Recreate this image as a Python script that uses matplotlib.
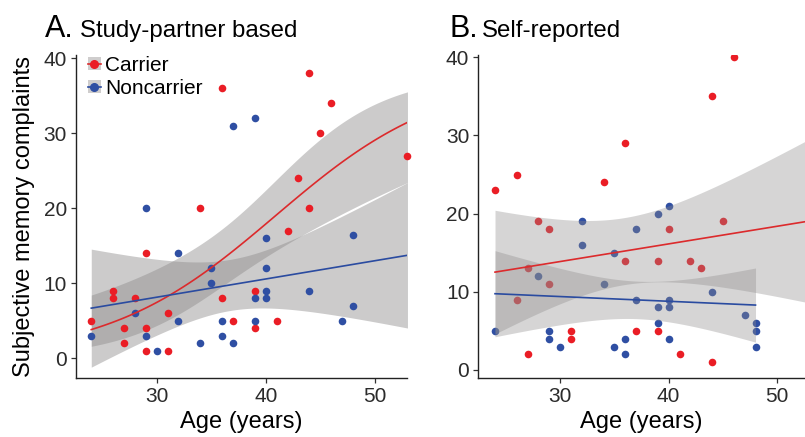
import numpy as np
import matplotlib
matplotlib.use("Agg")
import matplotlib.pyplot as plt
from matplotlib.patches import Rectangle
from matplotlib.lines import Line2D

plt.rcParams['font.family'] = ['Liberation Sans', 'DejaVu Sans']

# Panel A: study-partner based
a_car_age = [24, 26, 26, 27, 27, 28, 29, 29, 29, 31, 31, 34, 36, 36, 37, 39, 39, 41, 42, 43, 44, 44, 45, 46, 53]
a_car_val = [5, 9, 8, 4, 2, 8, 14, 4, 1, 6, 1, 20, 36, 8, 5, 9, 4, 5, 17, 24, 38, 20, 30, 34, 27]
a_non_age = [24, 28, 29, 29, 30, 32, 32, 34, 35, 35, 36, 36, 37, 37, 39, 39, 39, 40, 40, 40, 40, 44, 47, 48, 48]
a_non_val = [3, 6, 20, 3, 1, 14, 5, 2, 12, 10, 5, 3, 31, 2, 32, 8, 5, 16, 12, 9, 8, 9, 5, 16.4, 7]

# Panel B: self-reported (last carrier point sits past the cropped right edge)
b_car_age = [24, 26, 26, 27, 27, 28, 29, 29, 31, 31, 34, 36, 36, 37, 39, 39, 40, 41, 42, 43, 44, 44, 45, 46, 53]
b_car_val = [23, 25, 9, 13, 2, 19, 18, 11, 5, 4, 24, 29, 14, 5, 14, 5, 18, 2, 14, 13, 35, 1, 19, 40, 18]
b_non_age = [24, 28, 29, 29, 30, 32, 32, 34, 35, 35, 36, 36, 37, 37, 39, 39, 39, 40, 40, 40, 40, 44, 47, 48, 48, 48]
b_non_val = [5, 12, 5, 4, 3, 19, 16, 11, 15, 3, 4, 2, 18, 9, 20, 8, 6, 21, 9, 8, 4, 10, 7, 6, 5, 3]

RED = '#EA1D25'
BLUE = '#2F4FA3'
RED_LINE = '#DC2A2C'
BLUE_LINE = '#2A4BA0'
BAND = '#8e8c8c'


def t975(df):
    z = 1.959964
    return z + (z**3 + z) / (4 * df) + (5 * z**5 + 16 * z**3 + 3 * z) / (96 * df**2)


def lm_band(x, y, grid):
    x = np.asarray(x, float); y = np.asarray(y, float)
    n = len(x)
    X = np.column_stack([np.ones(n), x])
    beta = np.linalg.lstsq(X, y, rcond=None)[0]
    r = y - X @ beta
    cov = (r @ r / (n - 2)) * np.linalg.inv(X.T @ X)
    G = np.column_stack([np.ones_like(grid), grid])
    fit = G @ beta
    se = np.sqrt(np.einsum('ij,jk,ik->i', G, cov, G))
    t = t975(n - 2)
    return fit, fit - t * se, fit + t * se


def logit_band(x, y, grid, top):
    # quasi-binomial GLM on y/top, fitted by IRLS
    x = np.asarray(x, float); p = np.asarray(y, float) / top
    n = len(x)
    X = np.column_stack([np.ones(n), x])
    beta = np.zeros(2)
    for _ in range(100):
        eta = X @ beta
        mu = 1 / (1 + np.exp(-eta))
        w = mu * (1 - mu)
        z = eta + (p - mu) / w
        beta = np.linalg.solve(X.T @ (w[:, None] * X), X.T @ (w * z))
    mu = 1 / (1 + np.exp(-(X @ beta)))
    w = mu * (1 - mu)
    disp = np.sum((p - mu) ** 2 / w) / (n - 2)
    cov = disp * np.linalg.inv(X.T @ (w[:, None] * X))
    G = np.column_stack([np.ones_like(grid), grid])
    eta = G @ beta
    se = np.sqrt(np.einsum('ij,jk,ik->i', G, cov, G))
    inv = lambda e: top / (1 + np.exp(-e))
    return inv(eta), inv(eta - 1.96 * se), inv(eta + 1.96 * se)


def style(ax):
    for s in ['top', 'right']:
        ax.spines[s].set_visible(False)
    for s in ['left', 'bottom']:
        ax.spines[s].set_linewidth(1.0)
        ax.spines[s].set_color('#222222')
    ax.set_xticks([30, 40, 50])
    ax.set_yticks([0, 10, 20, 30, 40])
    ax.tick_params(length=3.5, width=0.9, color='#333333', labelsize=15,
                   labelcolor='#2b2b2b', pad=3)
    ax.set_xlabel('Age (years)', fontsize=17, labelpad=4)


W, H = 805, 437
fig = plt.figure(figsize=(W / 100, H / 100), dpi=100)
axA = fig.add_axes([76 / W, (H - 377.7) / H, (406.7 - 76) / W, (377.7 - 55) / H])
axB = fig.add_axes([478.3 / W, (H - 377.7) / H, (805 - 478.3) / W, (377.7 - 55) / H])

# ---- panel A
grid = np.linspace(min(a_car_age + a_non_age), max(a_car_age + a_non_age), 120)
fr, lr, hr = logit_band(a_car_age, a_car_val, grid, top=max(a_car_val))
fb, lb, hb = lm_band(a_non_age, a_non_val, grid)
axA.fill_between(grid, lr, hr, color=BAND, alpha=0.45, lw=0, zorder=1)
axA.fill_between(grid, lb, hb, color=BAND, alpha=0.45, lw=0, zorder=1)
axA.scatter(a_car_age, a_car_val, s=30, color=RED, lw=0, zorder=3, clip_on=False)
axA.scatter(a_non_age, a_non_val, s=30, color=BLUE, lw=0, zorder=3, clip_on=False)
axA.plot(grid, fr, color=RED_LINE, lw=1.2, zorder=4)
axA.plot(grid, fb, color=BLUE_LINE, lw=1.2, zorder=4)
axA.set_xlim(22.6, 52.93)
axA.set_ylim(-2.59, 40.44)
style(axA)
axA.set_ylabel('Subjective memory complaints', fontsize=17, labelpad=6)

hc = (Rectangle((0, 0), 1, 1, color='#cfcdcd', lw=0),
      Line2D([], [], color=RED_LINE, lw=1.2, marker='o', ms=5.5, mfc=RED, mec=RED))
hn = (Rectangle((0, 0), 1, 1, color='#cfcdcd', lw=0),
      Line2D([], [], color=BLUE_LINE, lw=1.2, marker='o', ms=5.5, mfc=BLUE, mec=BLUE))
axA.legend([hc, hn], ['Carrier', 'Noncarrier'], loc='upper left',
           bbox_to_anchor=(0.035, 0.997), frameon=False, fontsize=15,
           handlelength=0.65, handleheight=0.55, handletextpad=0.2,
           labelspacing=0.2, borderpad=0, borderaxespad=0)

# ---- panel B
gc = np.linspace(min(b_car_age), max(b_car_age), 120)
gn = np.linspace(min(b_non_age), max(b_non_age), 120)
fr, lr, hr = lm_band(b_car_age, b_car_val, gc)
fb, lb, hb = lm_band(b_non_age, b_non_val, gn)
axB.scatter(b_car_age, b_car_val, s=30, color=RED, lw=0, zorder=1)
axB.scatter(b_non_age, b_non_val, s=30, color=BLUE, lw=0, zorder=1)
axB.fill_between(gc, lr, hr, color=BAND, alpha=0.36, lw=0, zorder=2)
axB.fill_between(gn, lb, hb, color=BAND, alpha=0.36, lw=0, zorder=2)
axB.plot(gc, fr, color=RED_LINE, lw=1.2, zorder=4)
axB.plot(gn, fb, color=BLUE_LINE, lw=1.2, zorder=4)
axB.set_xlim(22.46, 52.56)
axB.set_ylim(-0.985, 40.29)
style(axB)

# panel titles
fig.text(45 / W, 1 - 37 / H, 'A.', fontsize=22, va='baseline', ha='left')
fig.text(80 / W, 1 - 37 / H, 'Study-partner based', fontsize=17.3, va='baseline', ha='left')
fig.text(449 / W, 1 - 37 / H, 'B.', fontsize=22, va='baseline', ha='left')
fig.text(482 / W, 1 - 37 / H, 'Self-reported', fontsize=17.3, va='baseline', ha='left')

fig.savefig('out.png', dpi=100)
